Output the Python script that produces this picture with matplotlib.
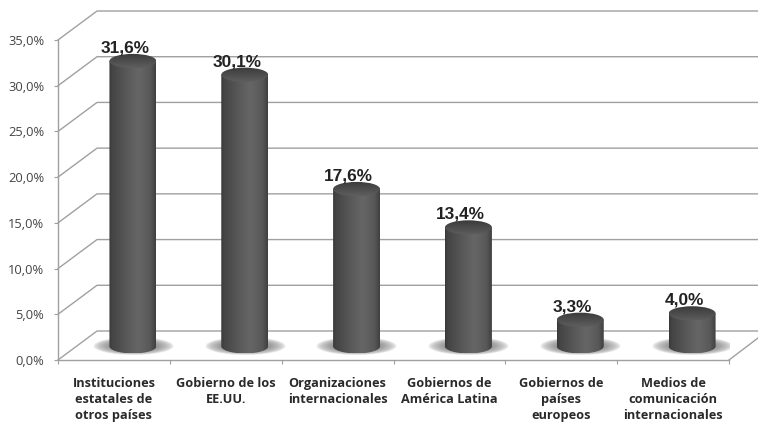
import numpy as np
import matplotlib
matplotlib.use("Agg")
import matplotlib.pyplot as plt
from matplotlib.path import Path
from matplotlib.patches import PathPatch, Ellipse

categorias = ["Instituciones\nestatales de\notros países", "Gobierno de los\nEE.UU.\n ",
              "Organizaciones\ninternacionales\n ", "Gobiernos de\nAmérica Latina\n ",
              "Gobiernos de\npaíses\neuropeos", "Medios de\ncomunicación\ninternacionales"]
valores = [31.6, 30.1, 17.6, 13.4, 3.3, 4.0]
etiquetas = ["31,6%", "30,1%", "17,6%", "13,4%", "3,3%", "4,0%"]
y_ticks = [0, 5, 10, 15, 20, 25, 30, 35]
y_labels = ["0,0%", "5,0%", "10,0%", "15,0%", "20,0%", "25,0%", "30,0%", "35,0%"]

W, H = 758, 423
fig = plt.figure(figsize=(W / 100, H / 100), dpi=100)
# el eje coincide con el plano frontal del grafico 3D
ax = fig.add_axes([58 / W, 1 - 360 / H, 671 / W, 320 / H])
gris = "#a0a0a0"

# profundidad del falso 3D, en unidades de datos
dx = 39 / 671 * 6
dy = 29 / 320 * 35
x_fin = 6 + dx + 0.5

for t in y_ticks:
    if t == 0:
        continue
    ax.plot([0, dx, x_fin], [t, t + dy, t + dy], color=gris, lw=1.0, clip_on=False, zorder=1)
# piso
ax.plot([0, dx, x_fin], [0, dy, dy], color=gris, lw=1.0, clip_on=False, zorder=1)
ax.plot([6, 6 + 29 / 671 * 6], [0, 22 / 320 * 35], color=gris, lw=1.0, clip_on=False, zorder=1)

ancho = 0.21
desv_x = 0.17
base = 1.5
alto_elipse = 0.78

# degradado horizontal del cilindro
stops = np.array([0, 0.06, 0.3, 0.62, 0.88, 1.0])
grises = np.array([0.22, 0.27, 0.33, 0.40, 0.35, 0.25])
grad = np.interp(np.linspace(0, 1, 128), stops, grises).reshape(1, -1)
# degradado vertical de la tapa (arriba oscura, abajo clara)
grad_tapa = np.linspace(0.23, 0.37, 32).reshape(-1, 1)

# sombra difusa bajo cada cilindro
u, v = np.meshgrid(np.linspace(-1, 1, 120), np.linspace(-1, 1, 60))
sombra = np.zeros((60, 120, 4))
sombra[..., 3] = 0.9 * np.clip(1 - np.sqrt(u ** 2 + v ** 2), 0, 1) ** 0.55
sombra[..., :3] = 0.27

for i, val in enumerate(valores):
    cx = i + 0.5 + desv_x
    tope = 1.1 + val
    ax.imshow(sombra, extent=[cx - 0.36, cx + 0.36, base - 0.95, base + 1.0], aspect="auto", zorder=2,
              interpolation="bilinear")
    t = np.linspace(np.pi, 2 * np.pi, 40)
    xs = np.r_[cx + ancho * np.cos(t), cx + ancho, cx - ancho]
    ys = np.r_[base + alto_elipse * np.sin(t), tope, tope]
    cuerpo = PathPatch(Path(np.c_[xs, ys]), transform=ax.transData, fc="none", ec="none")
    ax.add_patch(cuerpo)
    im = ax.imshow(grad, extent=[cx - ancho, cx + ancho, base - alto_elipse, tope], aspect="auto",
                   cmap="gray", vmin=0, vmax=1, zorder=3, interpolation="bilinear")
    im.set_clip_path(cuerpo)
    tapa = Ellipse((cx, tope), 2 * ancho, 2 * alto_elipse, fc="none", ec="none")
    ax.add_patch(tapa)
    im2 = ax.imshow(grad_tapa, extent=[cx - ancho, cx + ancho, tope - alto_elipse, tope + alto_elipse],
                    aspect="auto", cmap="gray", vmin=0, vmax=1, zorder=4, interpolation="bilinear")
    im2.set_clip_path(tapa)
    ax.text(i + 0.5 + 0.10, tope + 0.6, etiquetas[i], ha="center", va="bottom", fontsize=12.4,
            fontweight="bold", family="Liberation Sans", color="#222222", zorder=5)

ax.set_xlim(0, 6)
ax.set_ylim(0, 35)
ax.set_yticks(y_ticks)
ax.set_yticklabels(y_labels, family="Open Sans", fontsize=9.3, color="#444444")
ax.set_xticks(range(7))
ax.set_xticklabels([])
ax.set_xticks(np.arange(6) + 0.5, categorias, minor=True, family="Open Sans", fontweight="bold",
              fontsize=9.2, color="#2a2a2a", linespacing=1.32)
ax.tick_params(axis="x", which="minor", length=0, pad=12)
ax.tick_params(axis="x", which="major", length=3, color=gris)
ax.tick_params(axis="y", length=3, color=gris, pad=7)
for lado in ["top", "right"]:
    ax.spines[lado].set_visible(False)
for lado in ["left", "bottom"]:
    ax.spines[lado].set_color(gris)
    ax.spines[lado].set_linewidth(1.0)
ax.patch.set_alpha(0)

fig.savefig("out.png", dpi=100)
